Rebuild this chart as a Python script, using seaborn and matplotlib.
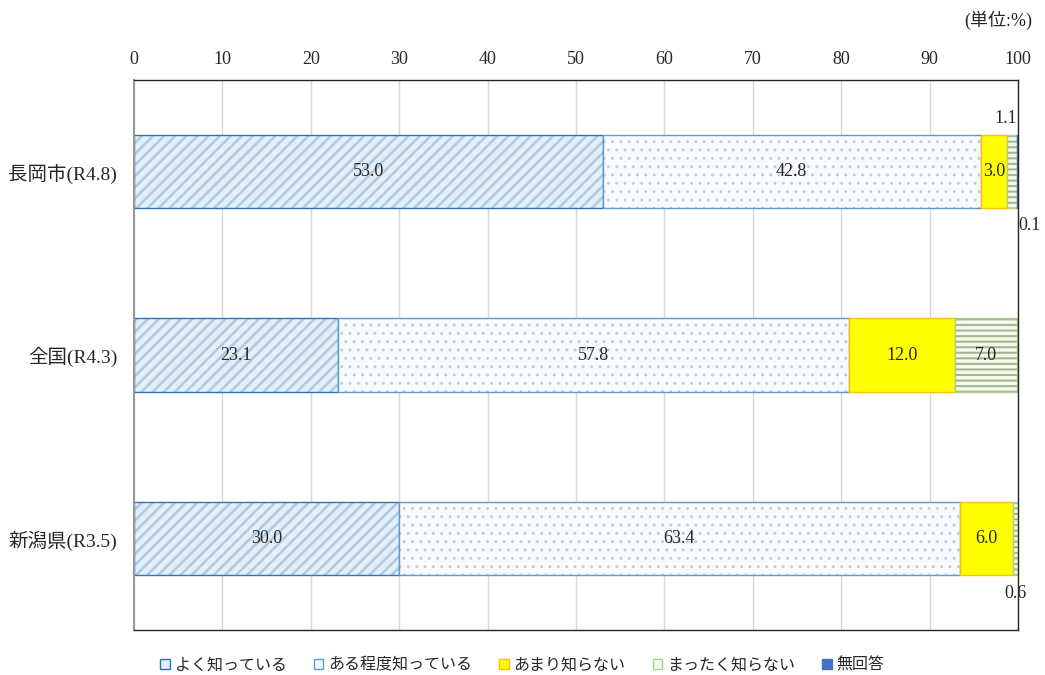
import matplotlib
matplotlib.use('Agg')
import matplotlib.pyplot as plt
import seaborn as sns
import pandas as pd
import numpy as np
from matplotlib.patches import Patch

# ---- data ----
categories = ['長岡市(R4.8)', '全国(R4.3)', '新潟県(R3.5)']
series_names = ['よく知っている', 'ある程度知っている', 'あまり知らない', 'まったく知らない', '無回答']
yoku_shitteiru = [53.0, 23.1, 30.0]
aruteido_shitteiru = [42.8, 57.8, 63.4]
amari_shiranai = [3.0, 12.0, 6.0]
mattaku_shiranai = [1.1, 7.0, 0.6]
mukaitou = [0.1, 0.0, 0.0]
x_ticks = [0, 10, 20, 30, 40, 50, 60, 70, 80, 90, 100]
unit_label = '(単位:%)'

series_values = [yoku_shitteiru, aruteido_shitteiru, amari_shiranai, mattaku_shiranai, mukaitou]

# ---- styles ----
styles = [
    dict(face='#E3EFF9', hatchc='#B2CADF', hatch='///', border='#2E75B6', hlw=1.9),
    dict(face='#F8FAFD', hatchc='#C3CDD8', hatch='..', border='#5B9BD5', hlw=1.0),
    dict(face='#FFFF00', hatchc='#FFFF00', hatch=None, border='#FFC000', hlw=1.0),
    dict(face='#F4FAEE', hatchc='#A6B78F', hatch='---', border='#A9D18E', hlw=1.5),
    dict(face='#4472C4', hatchc='#4472C4', hatch=None, border='#4472C4', hlw=1.0),
]
# placement of small labels outside bars: (row, series) -> (ha, dy pts, anchor)
outside = {(0, 3): ('right', 12, 'end'), (0, 4): ('left', -12, 'end'), (2, 3): ('center', -13, 'mid')}

sns.set_theme(style='white')
plt.rcParams['font.family'] = ['Liberation Serif', 'Noto Sans CJK JP']
jp_font = ['Noto Sans CJK JP', 'DejaVu Sans']
serif_font = ['Liberation Serif', 'Noto Sans CJK JP']
FS = 13

fig = plt.figure(figsize=(10.45, 6.75), dpi=100)
ax = fig.add_axes([134 / 1045, 1 - 630 / 675, (1018 - 134) / 1045, 550 / 675])


def shift(patches, lefts):
    for p, l in zip(patches, lefts):
        p.set_x(l)
        if p.get_width() <= 0:
            p.set_visible(False)


lefts = np.zeros(len(categories))
for vals, st in zip(series_values, styles):
    df = pd.DataFrame({'category': categories, 'value': vals})
    n0 = len(ax.patches)
    with plt.rc_context({'hatch.linewidth': st['hlw']}):
        sns.barplot(data=df, x='value', y='category', orient='h',
                    width=0.4, errorbar=None, color=st['face'], saturation=1,
                    edgecolor=st['hatchc'], hatch=st['hatch'], linewidth=0, ax=ax)
    new = ax.patches[n0:]
    for p in new:
        if hasattr(p, 'set_hatch_linewidth'):
            p.set_hatch_linewidth(st['hlw'])
    shift(new, lefts)
    n1 = len(ax.patches)
    sns.barplot(data=df, x='value', y='category', orient='h',
                width=0.4, errorbar=None, fill=False, color=st['border'], saturation=1,
                linewidth=1.0, ax=ax)
    shift(ax.patches[n1:], lefts)
    lefts = lefts + np.array(vals)

# value labels
lefts = np.zeros(len(categories))
for j, vals in enumerate(series_values):
    for i, v in enumerate(vals):
        if v > 0:
            if (i, j) in outside:
                ha, dy, anc = outside[(i, j)]
                xpos = lefts[i] + v if anc == 'end' else lefts[i] + v / 2
                ax.annotate(f'{v:.1f}', (xpos, i - np.sign(dy) * 0.2), xytext=(0, dy),
                            textcoords='offset points', ha=ha, va='center',
                            fontsize=FS, color='#262626', family=serif_font, annotation_clip=False)
            else:
                ax.text(lefts[i] + v / 2, i, f'{v:.1f}', ha='center', va='center',
                        fontsize=FS, color='#262626', family=serif_font)
    lefts = lefts + np.array(vals)

ax.set_xlim(0, 100)
ax.set_ylim(2.5, -0.5)
ax.set_xticks(x_ticks)
ax.set_xticklabels([str(t) for t in x_ticks], family=serif_font, fontsize=FS, color='#262626')
ax.xaxis.tick_top()
ax.tick_params(axis='x', length=0, pad=9)
ax.tick_params(axis='y', length=0, pad=12)
for lab in ax.get_yticklabels():
    lab.set_family(serif_font)
    lab.set_fontsize(14)
    lab.set_color('#262626')
ax.set_xlabel('')
ax.set_ylabel('')
ax.grid(axis='x', color='#D9D9D9', linewidth=1.0)
ax.set_axisbelow(True)
for s in ['top', 'right', 'bottom']:
    ax.spines[s].set_visible(True)
    ax.spines[s].set_color('#262626')
    ax.spines[s].set_linewidth(1.0)
ax.spines['left'].set_visible(True)
ax.spines['left'].set_color('#9A9A9A')
ax.spines['left'].set_linewidth(1.5)

fig.text(1032 / 1045, 1 - 20 / 675, unit_label, ha='right', va='center',
         fontsize=FS, color='#262626', family=serif_font)

handles = [Patch(facecolor=st['face'], edgecolor=st['border'], linewidth=1.0) for st in styles]
fig.legend(handles, series_names, loc='center', bbox_to_anchor=(0.5, 1 - 665 / 675), ncol=5,
           frameon=False, handlelength=0.6, handleheight=0.6, handletextpad=0.3,
           columnspacing=1.7, prop={'family': jp_font, 'size': 11.5})

fig.savefig('out.png', dpi=100)
